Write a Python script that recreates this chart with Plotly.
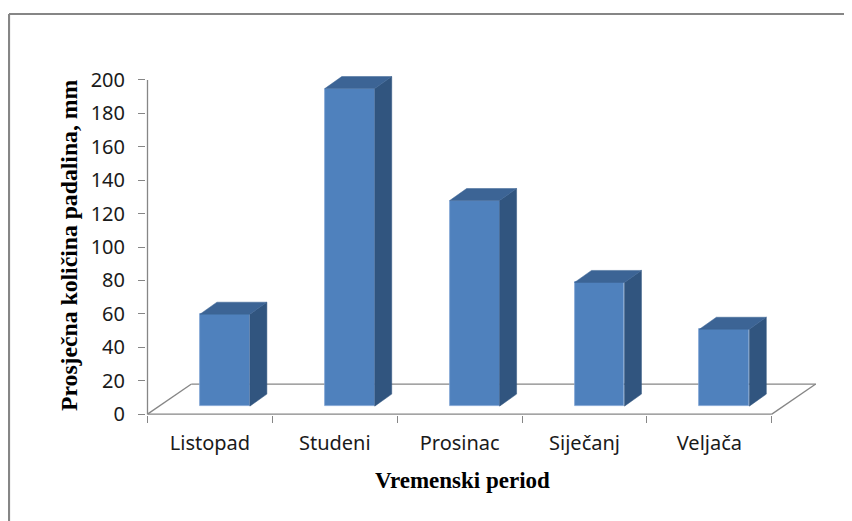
import plotly.graph_objects as go

# ---- data ----
categories = ["Listopad", "Studeni", "Prosinac", "Siječanj", "Veljača"]
values = [55, 190, 123, 74, 46]
y_ticks = [0, 20, 40, 60, 80, 100, 120, 140, 160, 180, 200]
y_title = "Prosječna količina padalina, mm"
x_title = "Vremenski period"

# ---- style / geometry constants (3D look) ----
FRONT = "#4F81BD"
SIDE = "#31557F"
TOP = "#3C6495"
GRID = "#868686"
BAR_W = 0.4
BAR_SHIFT = 0.12
BAR_BASE = 4.8
DEPTH_X = 0.136
DEPTH_Y = 7.2
FLOOR_DX = 0.352
FLOOR_DY = 18.0
N = len(categories)

OFF = 8  # page body offset in the browser

fig = go.Figure()

centers = [i + 0.5 + BAR_SHIFT for i in range(N)]

# front faces
fig.add_trace(go.Bar(
    x=centers, y=values, base=BAR_BASE, width=BAR_W,
    marker=dict(color=FRONT, line=dict(color="#7FA3D3", width=0.8)),
    showlegend=False, hoverinfo="skip",
))

# side and top faces
for c, v in zip(centers, values):
    x0, x1 = c - BAR_W / 2, c + BAR_W / 2
    yb, yt = BAR_BASE, BAR_BASE + v
    fig.add_trace(go.Scatter(
        x=[x1, x1 + DEPTH_X, x1 + DEPTH_X, x1, x1],
        y=[yb, yb + DEPTH_Y, yt + DEPTH_Y, yt, yb],
        fill="toself", fillcolor=SIDE, mode="lines",
        line=dict(color=SIDE, width=0.5), showlegend=False, hoverinfo="skip",
    ))
    fig.add_trace(go.Scatter(
        x=[x0, x1, x1 + DEPTH_X, x0 + DEPTH_X, x0],
        y=[yt, yt, yt + DEPTH_Y, yt + DEPTH_Y, yt],
        fill="toself", fillcolor=TOP, mode="lines",
        line=dict(color=TOP, width=0.5), showlegend=False, hoverinfo="skip",
    ))

shapes = []
# floor
floor_pts = [(0, 0), (N, 0), (N + FLOOR_DX, FLOOR_DY), (FLOOR_DX, FLOOR_DY), (0, 0)]
for (a, b), (c, d) in zip(floor_pts[:-1], floor_pts[1:]):
    shapes.append(dict(type="line", xref="x", yref="y", x0=a, y0=b, x1=c, y1=d,
                       line=dict(color=GRID, width=1.3), layer="below"))
# y axis line
shapes.append(dict(type="line", xref="x", yref="y", x0=0, y0=0, x1=0, y1=y_ticks[-1],
                   line=dict(color=GRID, width=1.3), layer="below"))

# layout in page pixels (minus page offset)
L, T = 146 - OFF, 59 - OFF
W, H = 682, 356
R = 852 - L - W
B = 521 - T - H
def px(xp):
    return (xp - OFF - L) / W
def py(yp):
    return 1 - (yp - OFF - T) / H

# outer border
shapes.append(dict(type="line", xref="paper", yref="paper",
                   x0=px(9), y0=py(540), x1=px(9), y1=py(14),
                   line=dict(color=GRID, width=2.2)))
shapes.append(dict(type="line", xref="paper", yref="paper",
                   x0=px(9), y0=py(14), x1=px(870), y1=py(14),
                   line=dict(color=GRID, width=2.2)))

fig.update_layout(
    width=852, height=521,
    margin=dict(l=L, r=R, t=T, b=B),
    paper_bgcolor="white", plot_bgcolor="white",
    bargap=0,
    shapes=shapes,
    xaxis=dict(
        range=[-0.012, 5.45], showgrid=False, zeroline=False, showline=False,
        tickmode="array", tickvals=[i + 0.5 for i in range(N)], ticktext=categories,
        ticks="", ticklabelstandoff=14,
        tickfont=dict(family="Noto Sans", size=20, color="#1a1a1a"),
        minor=dict(ticks="outside", tick0=0, dtick=1, ticklen=7, tickcolor=GRID, tickwidth=1.3, showgrid=False),
    ),
    yaxis=dict(
        range=[-0.5, 212.5], showgrid=False, zeroline=False, showline=False,
        tickmode="array", tickvals=y_ticks, ticktext=[str(t) for t in y_ticks],
        ticks="outside", ticklen=7, tickcolor=GRID, tickwidth=1.3,
        ticklabelstandoff=9,
        tickfont=dict(family="Noto Sans", size=20, color="#1a1a1a"),
    ),
    annotations=[
        dict(text="<b>" + y_title + "</b>", xref="paper", yref="paper",
             x=px(69), y=py(246), xanchor="center", yanchor="middle", textangle=-90,
             showarrow=False, font=dict(family="Liberation Serif", size=23.7, color="black")),
        dict(text="<b>" + x_title + "</b>", xref="paper", yref="paper",
             x=px(462), y=py(480), xanchor="center", yanchor="middle",
             showarrow=False, font=dict(family="Liberation Serif", size=23, color="black")),
    ],
)

fig.write_html("out.html")
